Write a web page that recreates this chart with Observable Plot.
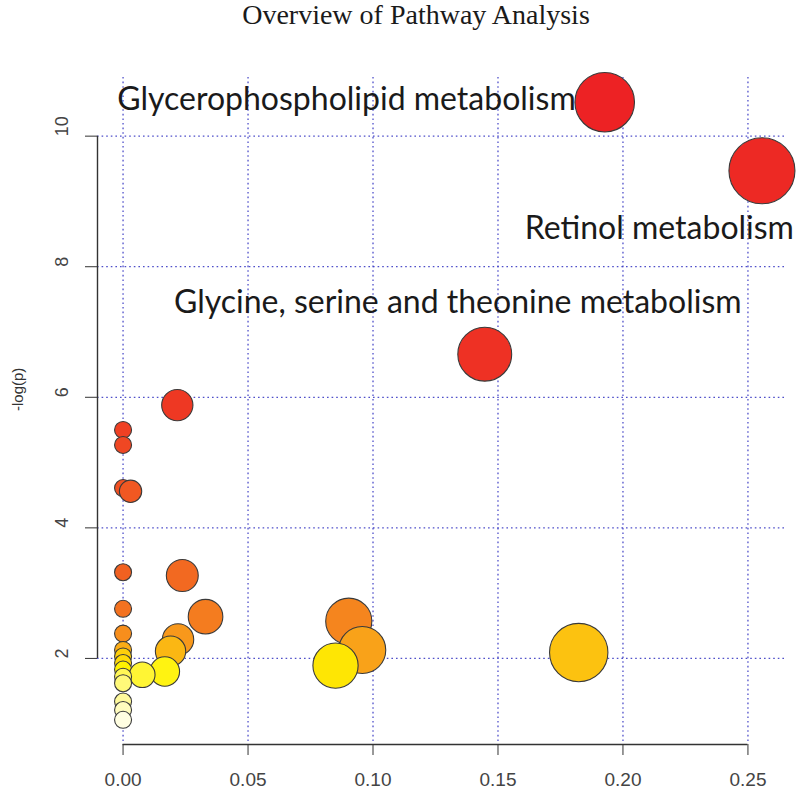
<!DOCTYPE html>
<html>
<head>
<meta charset="utf-8">
<script src="https://cdn.jsdelivr.net/npm/d3@7"></script>
<script src="https://cdn.jsdelivr.net/npm/@observablehq/plot@0.6"></script>
<style>
  html, body { margin: 0; padding: 0; background: #fff; }
  #wrap { width: 800px; height: 793px; position: relative; overflow: hidden; }
  #title { height: 40px; box-sizing: border-box; padding-left: 32px; text-align: center;
           font-family: "Liberation Serif", "DejaVu Serif", serif; font-size: 28px; line-height: 30px; color: #1a1a1a; }
</style>
</head>
<body>
<div id="wrap">
  <div id="title">Overview of Pathway Analysis</div>
  <div id="chart"></div>
</div>
<script>
// Pathway impact (x) and -log(p) (y), ordered by -log(p) descending
const impact = [0.1927, 0.2556, 0.1447, 0.0217, 0, 0, 0, 0.003, 0, 0.0237,
                0, 0.033, 0.0903, 0, 0.022, 0.0957, 0, 0.019, 0.1823, 0,
                0, 0.085, 0, 0.0167, 0.0077, 0, 0, 0, 0, 0];
const logp   = [10.52, 9.47, 6.66, 5.88, 5.50, 5.27, 4.61, 4.56, 3.32, 3.27,
                2.76, 2.64, 2.57, 2.38, 2.29, 2.13, 2.13, 2.11, 2.09, 2.03,
                1.93, 1.89, 1.83, 1.80, 1.75, 1.72, 1.62, 1.34, 1.21, 1.06];
const labelNames = ["Glycerophospholipid metabolism", "Retinol metabolism", "Glycine, serine and theonine metabolism"];
const labelIndex = [0, 1, 2];
const xTicks = [0, 0.05, 0.10, 0.15, 0.20, 0.25];
const yTicks = [2, 4, 6, 8, 10];

// build table
const n = logp.length;
const order = d3.range(n).sort((a, b) => logp[b] - logp[a]);
const rankOf = new Array(n);
order.forEach((idx, r) => rankOf[idx] = r);
const data = d3.range(n).map(i => ({impact: impact[i], logp: logp[i], rank: rankOf[i]}));
const drawData = order.map(i => data[i]);

// R heat.colors(n), rank based (rendered with a slightly muted print-like palette)
const hueStops = d3.interpolateRgbBasis(["#ED2224", "#EF4A23", "#F47B20", "#FBAF17", "#FFF200"]);
function heat(rank) {
  const j = Math.floor(n / 4), i = n - j;
  if (rank < i) return hueStops(rank / (i - 1));
  const k = rank - i;
  const s = (1 - 1 / (2 * j)) - k * ((1 - 1 / j) / (j - 1));
  return d3.interpolateRgb("#FFF200", "#FFFFF2")(1 - s);
}

const xr = d3.extent(impact), yr = d3.extent(logp);
const xDomain = [xr[0] - 0.04 * (xr[1] - xr[0]), xr[1] + 0.04 * (xr[1] - xr[0])];
const yDomain = [yr[0] - 0.04 * (yr[1] - yr[0]), yr[1] + 0.04 * (yr[1] - yr[0])];

const gridStyle = {stroke: "#3c3cc4", strokeWidth: 1.3, strokeDasharray: "1.6,3", strokeOpacity: 0.9};
const axisColor = "#333";
const labelFont = "Lato, 'Open Sans', sans-serif";

const labelMarks = [
  {dx: -29, dy: -2, anchor: "end"},
  {dx: 32, dy: 58, anchor: "end"},
  {dx: -27, dy: -51, anchor: "middle"}
].map((o, k) => Plot.text([data[labelIndex[k]]], {
  x: "impact", y: "logp", text: () => labelNames[k],
  dx: o.dx, dy: o.dy, textAnchor: o.anchor, lineAnchor: "middle",
  fontSize: 32, fontFamily: labelFont, fill: "#1a1a1a"
}));

const chart = Plot.plot({
  width: 800,
  height: 753,
  marginTop: 37,
  marginBottom: 49,
  marginLeft: 97,
  marginRight: 13,
  style: {background: "white", overflow: "visible", fontFamily: "'Liberation Sans', Arial, sans-serif"},
  x: {domain: xDomain, axis: null},
  y: {domain: yDomain, axis: null},
  r: {type: "pow", exponent: 0.5, domain: [0, xr[1]], range: [8.5, 33]},
  marks: [
    Plot.gridX(xTicks, gridStyle),
    Plot.gridY(yTicks, gridStyle),
    // axis lines (R style: from first to last tick)
    Plot.ruleY([yDomain[0]], {x1: xTicks[0], x2: xTicks[xTicks.length - 1], stroke: axisColor, strokeWidth: 1.4}),
    Plot.ruleX([xDomain[0]], {y1: yTicks[0], y2: yTicks[yTicks.length - 1], stroke: axisColor, strokeWidth: 1.4}),
    Plot.axisX(xTicks, {anchor: "bottom", tickSize: 11, tickPadding: 17, tickFormat: d3.format(".2f"),
      fontSize: 19, stroke: axisColor, fill: "#444", label: null}),
    Plot.axisY(yTicks, {anchor: "left", tickSize: 12, tickFormat: () => "", stroke: axisColor, label: null}),
    Plot.text(yTicks, {y: d => d, text: d => String(d), frameAnchor: "left", dx: -35, rotate: -90,
      fontSize: 18, fill: "#444"}),
    Plot.text(["-log(p)"], {text: d => d, frameAnchor: "left", dx: -79, rotate: -90, fontSize: 15, fill: "#333"}),
    Plot.dot(drawData, {x: "impact", y: "logp", r: "impact", fill: d => heat(d.rank),
      stroke: "#3a3a3a", strokeWidth: 1.1, sort: null}),
    ...labelMarks
  ]
});
document.getElementById("chart").appendChild(chart);
</script>
</body>
</html>
